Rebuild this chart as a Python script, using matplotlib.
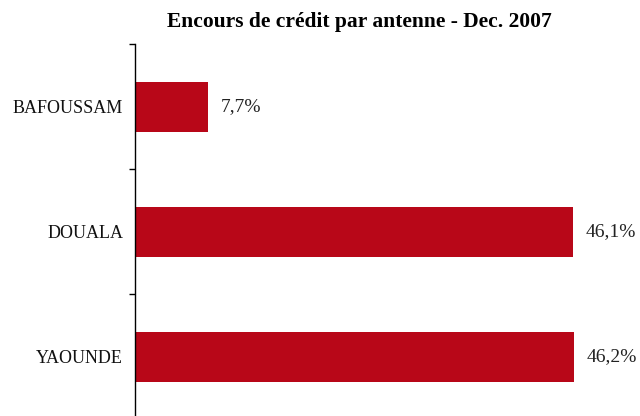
import matplotlib.pyplot as plt
import numpy as np

categories = ["BAFOUSSAM", "DOUALA", "YAOUNDE"]
values = [7.7, 46.1, 46.2]
value_labels = ["7,7%", "46,1%", "46,2%"]

plt.rcParams["font.family"] = ["Liberation Serif", "DejaVu Serif"]

W, H = 640, 416
fig = plt.figure(figsize=(W / 100, H / 100), dpi=100)
ax_left, ax_top, ax_bottom = 135, 44, 419
ax = fig.add_axes([ax_left / W, (H - ax_bottom) / H, 1 - ax_left / W, (ax_bottom - ax_top) / H])

y = np.arange(len(categories))
ax.barh(y, values, height=0.4, color="#B80718")

for yi, v, lab in zip(y, values, value_labels):
    ax.text(v + 1.35, yi, lab, va="center", ha="left", fontsize=14, color="#222222")

ax.set_xlim(0, (W - ax_left) / 9.5)
ax.set_ylim(len(categories) - 0.5, -0.5)

ax.set_yticks(y)
ax.set_yticklabels(categories, fontsize=13, color="#111111")
ax.tick_params(axis="y", which="major", length=0, pad=8.5)
ax.set_yticks(np.arange(len(categories) + 1) - 0.5, minor=True)
ax.tick_params(axis="y", which="minor", length=4, direction="out", width=1)
ax.set_xticks([])

for s in ["top", "right", "bottom"]:
    ax.spines[s].set_visible(False)
ax.spines["left"].set_linewidth(1)

fig.text(359 / W, 1 - 22 / H, "Encours de crédit par antenne - Dec. 2007",
         ha="center", va="center", fontsize=15.5, fontweight="bold")

fig.savefig("out.png", dpi=100)
